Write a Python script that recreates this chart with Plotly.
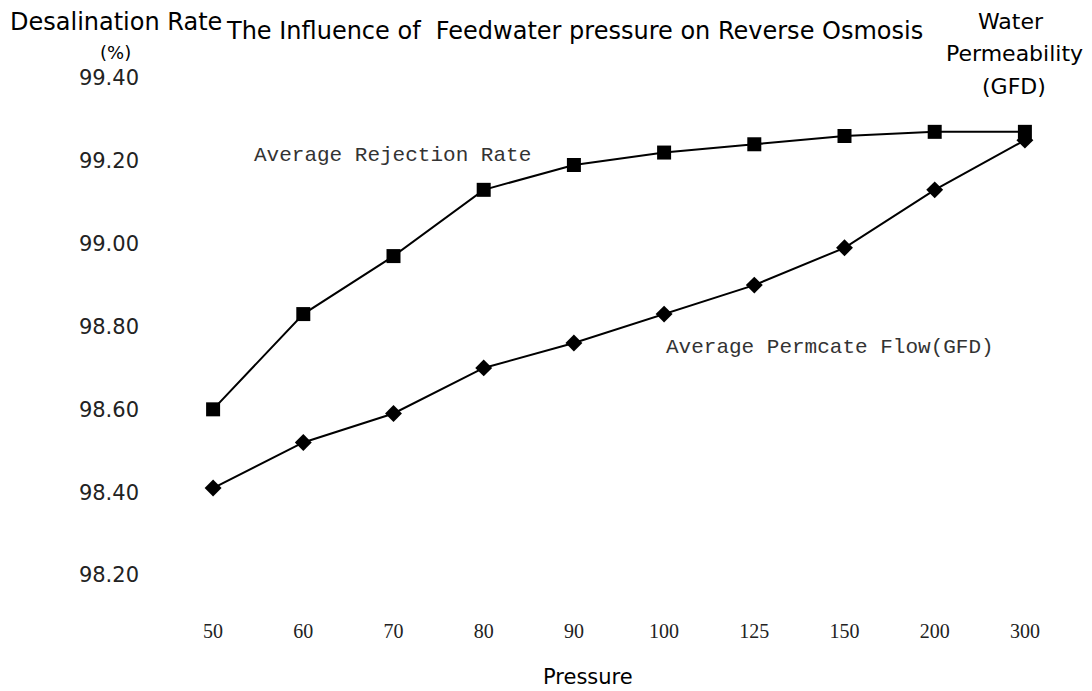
import plotly.graph_objects as go

pressure = ["50", "60", "70", "80", "90", "100", "125", "150", "200", "300"]
rejection_rate = [98.60, 98.83, 98.97, 99.13, 99.19, 99.22, 99.24, 99.26, 99.27, 99.27]
permeate_flow = [98.41, 98.52, 98.59, 98.70, 98.76, 98.83, 98.90, 98.99, 99.13, 99.25]
y_ticks = [98.20, 98.40, 98.60, 98.80, 99.00, 99.20, 99.40]

OFF = 8  # page body margin
W, H = 1092 - OFF, 691 - OFF
L, R, T, B = 160, 22, 70, 116
PW, PH = W - L - R, H - T - B

fig = go.Figure()
fig.add_trace(go.Scatter(
    x=pressure, y=rejection_rate, mode="lines+markers",
    line=dict(color="black", width=2),
    marker=dict(symbol="square", size=14, color="black"),
    cliponaxis=False, showlegend=False))
fig.add_trace(go.Scatter(
    x=pressure, y=permeate_flow, mode="lines+markers",
    line=dict(color="black", width=2),
    marker=dict(symbol="diamond", size=13, color="black"),
    cliponaxis=False, showlegend=False))

fig.update_layout(
    width=W, height=H,
    margin=dict(l=L, r=R, t=T, b=B, autoexpand=False),
    plot_bgcolor="white", paper_bgcolor="white",
    font=dict(family="DejaVu Sans", size=20, color="black"),
    xaxis=dict(type="category", range=[-0.5, 9.5], showgrid=False, showline=False,
               zeroline=False, ticks="", ticklabelstandoff=42, automargin=False,
               tickfont=dict(family="Liberation Serif", size=20, color="#222")),
    yaxis=dict(range=[98.2, 99.4], tickvals=y_ticks, tickformat=".2f",
               showgrid=False, showline=False, zeroline=False, ticks="",
               ticklabelstandoff=28, automargin=False,
               tickfont=dict(family="DejaVu Sans", size=21, color="#222")),
)

ann = [
    ("Desalination Rate", 116, 22, dict(size=24)),
    ("(%)", 115, 52, dict(size=18)),
    ("The Influence of  Feedwater pressure on Reverse Osmosis", 574, 31, dict(size=24)),
    ("Water", 1011, 22, dict(size=22)),
    ("Permeability", 1014, 54, dict(size=22)),
    ("(GFD)", 1014, 86, dict(size=22)),
    ("Pressure", 588, 677, dict(size=21)),
    ("Average Rejection Rate", 392, 155,
     dict(family="Liberation Mono", size=21, color="#333")),
    ("Average Permcate Flow(GFD)", 830, 347,
     dict(family="Liberation Mono", size=21, color="#333")),
]
for text, px, py, font in ann:
    px, py = px - OFF, py - OFF
    fig.add_annotation(text=text, x=(px - L) / PW, y=(H - B - py) / PH,
                       xref="paper", yref="paper", showarrow=False,
                       xanchor="center", yanchor="middle", font=font)

fig.write_html("out.html")
